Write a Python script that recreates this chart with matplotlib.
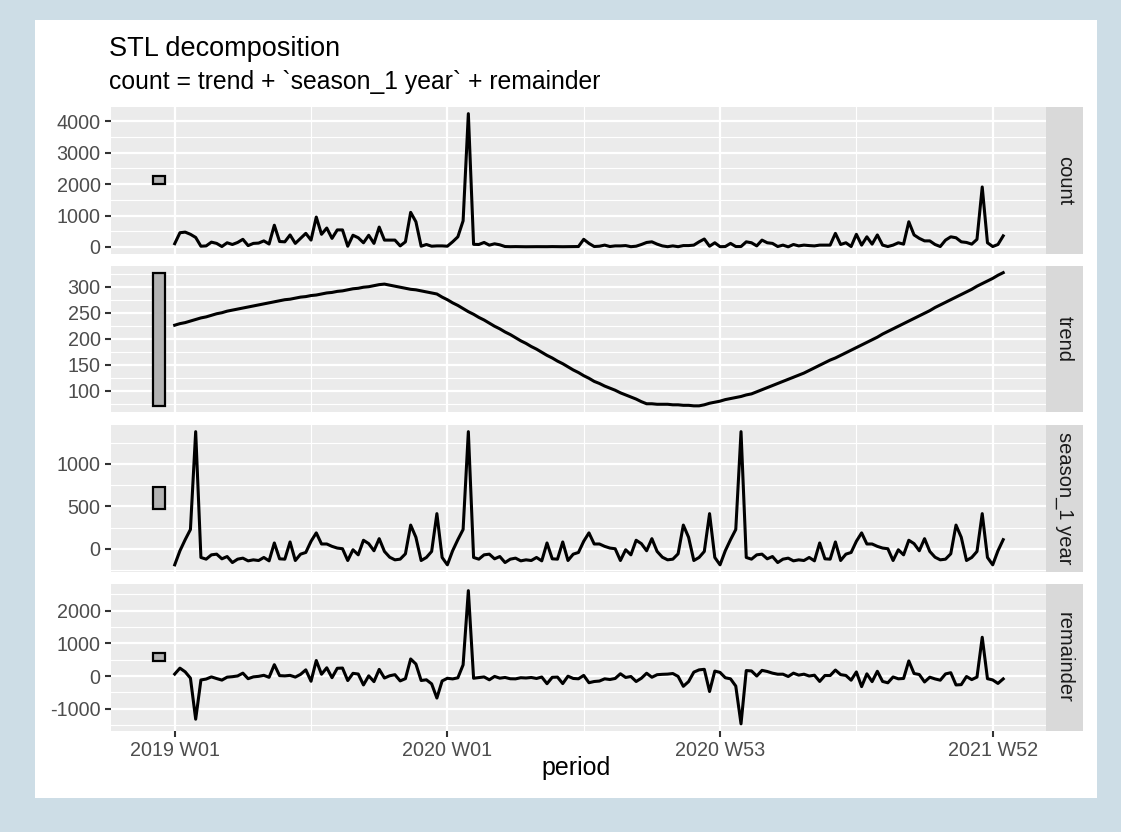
import matplotlib
matplotlib.use("Agg")
import matplotlib.pyplot as plt
from matplotlib.patches import Rectangle
import numpy as np

plt.rcParams['font.family'] = ['Liberation Sans', 'DejaVu Sans']
plt.rcParams['axes.unicode_minus'] = False

title = "STL decomposition"
subtitle = "count = trend + `season_1 year` + remainder"
x_label = "period"
tick_weeks = [0, 52, 104, 156]
tick_labels = ["2019 W01", "2020 W01", "2020 W53", "2021 W52"]
minor_weeks = [26, 78, 130]

count = [100, 450, 470, 400, 300, 20, 30, 150, 110, 10,
         130, 75, 140, 240, 40, 110, 120, 190, 90, 690,
         170, 160, 380, 110, 270, 430, 215, 950, 400, 600,
         270, 540, 540, 20, 370, 290, 130, 370, 110, 630,
         215, 215, 215, 30, 160, 1100, 800, 20, 75, 20,
         30, 30, 20, 160, 320, 830, 4250, 80, 75, 140,
         54, 97, 65, 10, 5, 8, 5, 3, 5, 6,
         4, 5, 8, 5, 4, 6, 5, 10, 240, 110,
         10, 20, 55, 10, 30, 30, 40, 5, 20, 75,
         140, 160, 86, 30, 5, 30, 5, 40, 40, 55,
         160, 250, 20, 130, 5, 10, 110, 10, 10, 160,
         130, 30, 215, 130, 110, 10, 55, 0, 75, 30,
         55, 40, 30, 55, 55, 55, 430, 75, 130, 10,
         400, 55, 320, 86, 380, 55, 10, 55, 130, 86,
         800, 380, 270, 190, 190, 75, 10, 215, 320, 290,
         160, 140, 86, 240, 1910, 130, 10, 75, 350]

trend = [226, 229, 231, 234, 237, 240, 242, 245, 248, 250,
         253, 255, 257, 259, 261, 263, 265, 267, 269, 271,
         273, 275, 276, 278, 280, 281, 283, 284, 286, 288,
         289, 291, 292, 294, 296, 297, 299, 300, 302, 304,
         305, 303, 301, 299, 297, 295, 294, 292, 290, 288,
         286, 280, 275, 269, 264, 258, 252, 247, 241, 236,
         230, 224, 219, 213, 208, 202, 196, 191, 185, 180,
         174, 168, 163, 157, 152, 146, 140, 135, 129, 124,
         118, 114, 109, 105, 101, 96, 92, 88, 84, 79,
         75, 75, 74, 74, 74, 73, 73, 72, 72, 71,
         71, 73, 76, 78, 80, 83, 85, 87, 89, 92,
         94, 98, 102, 106, 110, 114, 118, 122, 126, 130,
         134, 139, 144, 149, 154, 159, 163, 168, 173, 178,
         183, 188, 193, 198, 203, 209, 214, 219, 224, 229,
         234, 239, 244, 249, 254, 260, 265, 270, 275, 280,
         285, 290, 295, 301, 306, 311, 316, 322, 327]

season = [-190, -24, 107, 227, 1381, -103, -123, -72, -64, -119,
          -92, -163, -123, -111, -143, -131, -139, -103, -143, 68,
          -119, -123, 80, -139, -64, -44, 88, 187, 56, 56,
          28, 8, 0, -139, -12, -72, 100, 60, -24, 119,
          -32, -100, -131, -123, -60, 279, 135, -139, -103, -32,
          414, -103,
          -190, -24, 107, 227, 1381, -103, -123, -72, -64, -119,
          -92, -163, -123, -111, -143, -131, -139, -103, -143, 68,
          -119, -123, 80, -139, -64, -44, 88, 187, 56, 56,
          28, 8, 0, -139, -12, -72, 100, 60, -24, 119,
          -32, -100, -131, -123, -60, 279, 135, -139, -103, -32,
          414, -103,
          -190, -24, 107, 227, 1381, -103, -123, -72, -64, -119,
          -92, -163, -123, -111, -143, -131, -139, -103, -143, 68,
          -119, -123, 80, -139, -64, -44, 88, 187, 56, 56,
          28, 8, 0, -139, -12, -72, 100, 60, -24, 119,
          -32, -100, -131, -123, -60, 279, 135, -139, -103, -32,
          414, -103,
          -190, -24, 107]

remainder = [64, 245, 132, -61, -1318, -117, -89, -23, -74, -121,
             -31, -17, 6, 92, -78, -22, -6, 26, -36, 351,
             16, 8, 24, -29, 54, 193, -156, 479, 58, 256,
             -47, 241, 248, -135, 86, 65, -269, 10, -168, 207,
             -58, 12, 45, -146, -77, 526, 371, -133, -112, -236,
             -670, -147, -65, -85, -51, 345, 2617, -64, -43, -24,
             -112, -8, -62, -40, -80, -83, -48, -57, -41, -71,
             -27, -231, -36, -29, -228, -1, -71, -81, 23, -201,
             -164, -150, -82, -103, -71, 73, -40, -11, -164, -64,
             89, -34, 44, 56, 62, 80, -8, -311, -167, 123,
             192, 209, -470, 155, 115, -49, -82, -304, -1460, 171,
             159, 4, 177, 143, 92, 59, 60, -11, 92, 31,
             60, 4, 29, -162, 20, 19, 187, 46, 21, -124,
             129, -320, 71, -168, 149, -162, -204, -25, -82, -71,
             466, 81, 50, -178, -32, -85, -124, 68, 105, -269,
             -260, -11, -106, -29, 1190, -78, -116, -223, -84]

panel_names = ["count", "trend", "season_1 year", "remainder"]
major_ticks = [[0, 1000, 2000, 3000, 4000],
               [100, 150, 200, 250, 300],
               [0, 500, 1000],
               [-1000, 0, 1000, 2000]]
minor_ticks = [[500, 1500, 2500, 3500],
               [75, 125, 175, 225, 275, 325],
               [-250, 250, 750, 1250],
               [-1500, -500, 500, 1500, 2500]]

W, H = 1121, 832
fig = plt.figure(figsize=(W / 100, H / 100), dpi=100)
fig.patch.set_facecolor('#cddde6')
fig.add_artist(Rectangle((35 / W, 1 - 798 / H), (1097 - 35) / W, (798 - 20) / H,
                         transform=fig.transFigure, facecolor='white',
                         edgecolor='none', zorder=0))

series = [count, trend, season, remainder]
x = np.arange(len(count))
bar_h = min(max(s) - min(s) for s in series)
bar_x0, bar_x1 = -4.1, -1.9

pl, pr = 110.7, 1045.7
ph = 146.5
tops = [107, 266, 425, 584]
strip_w = 37.6

for k, (name, s) in enumerate(zip(panel_names, series)):
    top = tops[k]
    ax = fig.add_axes([pl / W, 1 - (top + ph) / H, (pr - pl) / W, ph / H])
    ax.set_facecolor('#EBEBEB')
    for sp in ax.spines.values():
        sp.set_visible(False)
    lo, hi = min(s), max(s)
    mid = (lo + hi) / 2
    ax.add_patch(Rectangle((bar_x0, mid - bar_h / 2), bar_x1 - bar_x0, bar_h,
                           facecolor='#B3B3B3', edgecolor='black',
                           linewidth=1.6, zorder=3))
    ax.plot(x, s, color='black', lw=2.2, zorder=4, solid_joinstyle='round')
    xlo, xhi = bar_x0, x[-1]
    xr = xhi - xlo
    ax.set_xlim(xlo - 0.05 * xr, xhi + 0.05 * xr)
    ylo = min(lo, mid - bar_h / 2)
    yhi = max(hi, mid + bar_h / 2)
    yr = yhi - ylo
    ax.set_ylim(ylo - 0.05 * yr, yhi + 0.05 * yr)
    ax.set_yticks(major_ticks[k])
    ax.set_yticks(minor_ticks[k], minor=True)
    ax.set_xticks(tick_weeks)
    ax.set_xticks(minor_weeks, minor=True)
    ax.grid(which='major', color='white', lw=1.6)
    ax.grid(which='minor', color='white', lw=0.8)
    ax.set_axisbelow(True)
    ax.tick_params(which='minor', length=0)
    ax.tick_params(which='major', length=4.3, width=1.5, color='#333333',
                   labelcolor='#4D4D4D', labelsize=14.2, pad=3)
    if k < 3:
        ax.set_xticklabels([])
        ax.tick_params(axis='x', which='major', length=0)
    else:
        ax.set_xticklabels(tick_labels)

    sax = fig.add_axes([pr / W, 1 - (top + ph) / H, strip_w / W, ph / H])
    sax.set_facecolor('#D9D9D9')
    sax.set_xticks([])
    sax.set_yticks([])
    for sp in sax.spines.values():
        sp.set_visible(False)
    sax.text(0.5, 0.5, name, rotation=-90, ha='center', va='center',
             fontsize=14.5, color='#1A1A1A', transform=sax.transAxes)

fig.text(109 / W, 1 - 56 / H, title, fontsize=19.5, ha='left', va='baseline', color='black')
fig.text(109 / W, 1 - 89 / H, subtitle, fontsize=17.8, ha='left', va='baseline', color='black')
fig.text(576 / W, 1 - 768 / H, x_label, fontsize=18, ha='center', va='center', color='black')

fig.savefig('out.png', dpi=100, facecolor=fig.get_facecolor())
